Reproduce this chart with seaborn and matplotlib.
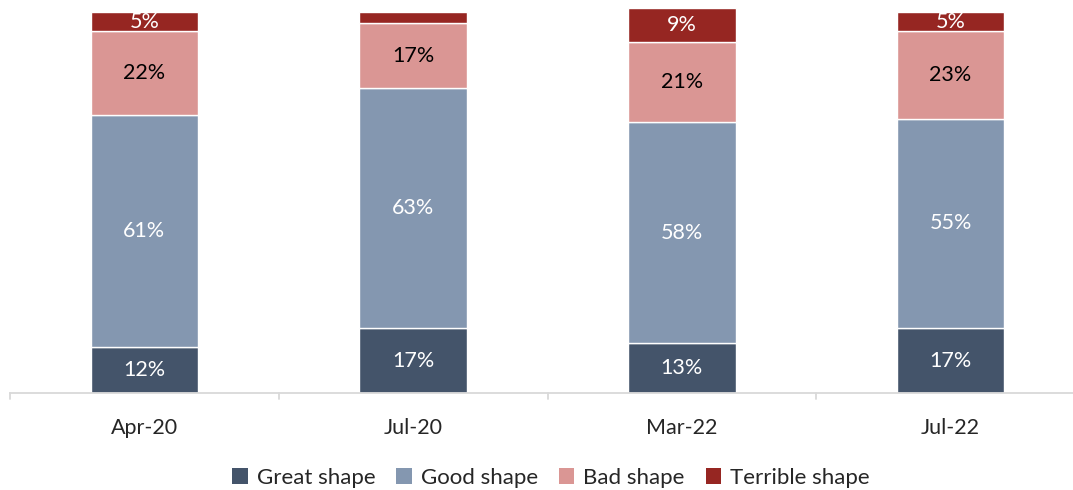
import numpy as np
import pandas as pd
import matplotlib
matplotlib.use("Agg")
import matplotlib.pyplot as plt
from matplotlib.patches import Patch
import seaborn as sns

periods = ["Apr-20", "Jul-20", "Mar-22", "Jul-22"]
series_names = ["Great shape", "Good shape", "Bad shape", "Terrible shape"]
great = [12, 17, 13, 17]
good = [61, 63, 58, 55]
bad = [22, 17, 21, 23]
terrible = [5, 3, 9, 5]
show_label = {"Terrible shape": [True, False, True, True]}

colors = ["#44546A", "#8497B0", "#DA9694", "#962622"]
text_colors = ["white", "white", "black", "white"]

sns.set_theme(style="white")
plt.rcParams["font.family"] = ["Lato", "DejaVu Sans"]

fig = plt.figure(figsize=(10.73, 4.90), dpi=100)
# axes run a little past the right edge so the last group is cut like the others
ax = fig.add_axes([10 / 1073, (490 - 393) / 490, 1075 / 1073, (393 - 12) / 490])

bottom = np.zeros(len(periods))
for name, vals, col, tcol in zip(series_names, [great, good, bad, terrible], colors, text_colors):
    df = pd.DataFrame({"period": periods, "value": vals})
    sns.barplot(data=df, x="period", y="value", bottom=bottom, color=col,
                width=0.4, ax=ax, order=periods, saturation=1, clip_on=False)
    flags = show_label.get(name, [True] * len(periods))
    for i, v in enumerate(vals):
        if flags[i]:
            ax.text(i, bottom[i] + v / 2, f"{v}%", ha="center", va="center",
                    color=tcol, fontsize=15.5)
    bottom = bottom + np.array(vals)

ax.set_xlim(-0.5, 3.5)
ax.set_ylim(0, 100)
ax.set_xlabel("")
ax.set_ylabel("")
ax.set_yticks([])
for s in ["top", "right", "left"]:
    ax.spines[s].set_visible(False)
ax.spines["bottom"].set_color("#D9D9D9")
ax.spines["bottom"].set_linewidth(1.3)

ax.set_xticks(range(len(periods)))
ax.set_xticklabels(periods, fontsize=15.5)
ax.tick_params(axis="x", length=0, pad=18)
# boundary tick marks between categories
for b in np.arange(-0.5, 3.6, 1.0):
    ax.plot([b, b], [0, -1.6], color="#D9D9D9", lw=1.3, clip_on=False)

handles = [Patch(facecolor=c, edgecolor="none", label=n) for n, c in zip(series_names, colors)]
fig.legend(handles=handles, loc="center", bbox_to_anchor=(551 / 1073, 1 - 478 / 490),
           ncol=4, frameon=False, fontsize=16, handlelength=0.7, handleheight=0.7,
           handletextpad=0.4, columnspacing=0.95)

fig.savefig("out.png", dpi=100)
